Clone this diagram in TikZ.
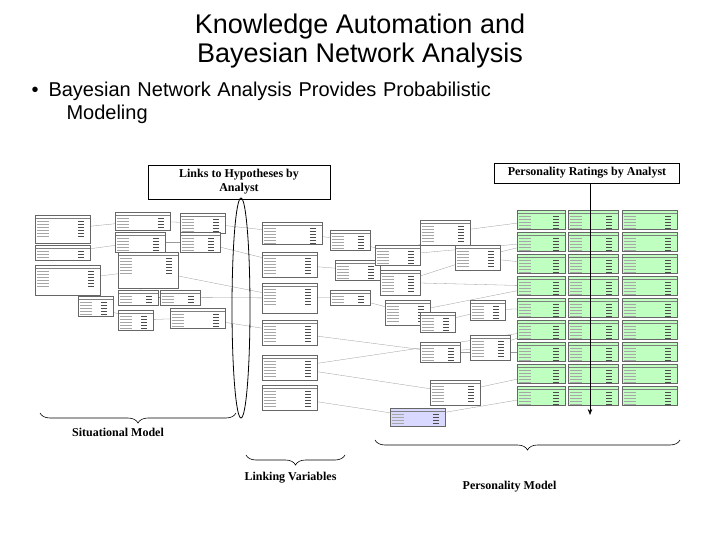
\documentclass[tikz,border=0pt]{standalone}
\usepackage{fontspec}
\setmainfont{Liberation Sans}
\newfontfamily\labfont{Liberation Serif}
\usetikzlibrary{decorations.pathreplacing,shapes.geometric,arrows.meta}
\tikzset{
  tbl/.style={draw=black!60,line width=0.3pt,fill=white,inner sep=0pt,anchor=north west,
    path picture={\draw[black!50,line width=0.3pt] ([yshift=-3pt]path picture bounding box.north west) -- ([yshift=-3pt]path picture bounding box.north east);
      \foreach \k in {6,9,12,15,18,21}{\draw[black!35,line width=0.4pt] ([xshift=2pt,yshift=-\k pt]path picture bounding box.north west) -- ++(12pt,0);
      \draw[black!70,line width=0.8pt] ([xshift=-12pt,yshift=-\k pt]path picture bounding box.north east) -- ++(6pt,0);}}},
  gtbl/.style={tbl,fill=green!25},
  lnk/.style={black!40,line width=0.3pt},
  lbl/.style={draw,fill=white,font=\labfont\bfseries\fontsize{12}{14}\selectfont,align=center,inner sep=3pt},
  brc/.style={decorate,decoration={brace,mirror,amplitude=10pt},line width=0.6pt},
  captxt/.style={font=\labfont\bfseries\fontsize{12}{14}\selectfont}
}
\begin{document}
\begin{tikzpicture}[x=1pt,y=-1pt]
\useasboundingbox (0,0) rectangle (720,540);
% title and bullet
\node[font=\fontsize{27}{29}\selectfont,align=center] (title) at (360,41) {Knowledge Automation and\\Bayesian Network Analysis};
\node[font=\fontsize{20}{23}\selectfont,align=left,anchor=north west,text width=660pt] (bul) at (28,78)
  {\makebox[17pt][l]{\textbullet}Bayesian Network Analysis Provides Probabilistic\\\hspace*{35pt}Modeling};
% links first, tables drawn over them
\foreach \n/\x/\y/\w/\h in {a1/35/215/55/28, a2/115/212/55/18, a3/180/213/45/20, a4/35/245/55/15,
  a5/115/232/50/20, a6/180/232/40/20, a7/35/265/65/30, a8/118/252/60/36, a9/118/290/40/15,
  a10/160/290/40/15, a11/78/296/35/20, a12/118/310/35/20, a13/170/308/55/20,
  m1/262/222/60/22, m2/262/252/55/25, m3/262/283/55/30, m4/262/320/55/25, m5/262/355/55/25,
  m6/262/385/55/25, m7/330/230/40/20, m8/335/260/45/20, m9/330/290/40/15, m10/375/245/45/20,
  m11/380/270/40/25, m12/385/300/45/25, m13/420/312/35/20, m14/420/342/40/20, m15/430/380/50/25,
  m16/420/220/50/25, m17/455/245/45/25, m18/470/300/35/20, m19/470/335/40/25, m20/390/408/55/18}
  \coordinate (\n) at (\x+\w/2,\y+\h/2);
\foreach \r/\y in {1/210,2/232,3/254,4/276,5/298,6/320,7/342,8/364,9/386}
  \coordinate (g\r a) at (541,\y+10);
\foreach \s/\t in {a1/a2,a2/a3,a4/a5,a5/a6,a7/a8,a8/a9,a9/a10,a11/a12,a12/a13,a3/m1,a6/m2,a8/m3,a10/m3,a13/m4,
  m1/m7,m2/m8,m3/m9,m7/m10,m8/m11,m9/m12,m10/m16,m11/m17,m12/m13,m13/m18,m14/m19,m4/m14,m5/m15,m6/m20,
  m16/g1a,m17/g2a,m17/g3a,m18/g5a,m19/g6a,m15/g8a,m20/g9a,m12/g4a,m14/g7a,m10/g2a,m11/g4a,m5/g6a}
  \draw[lnk] (\s) -- (\t);
% situational and linking tables
\foreach \n/\x/\y/\w/\h in {a1/35/215/55/28, a2/115/212/55/18, a3/180/213/45/20, a4/35/245/55/15,
  a5/115/232/50/20, a6/180/232/40/20, a7/35/265/65/30, a8/118/252/60/36, a9/118/290/40/15,
  a10/160/290/40/15, a11/78/296/35/20, a12/118/310/35/20, a13/170/308/55/20,
  m1/262/222/60/22, m2/262/252/55/25, m3/262/283/55/30, m4/262/320/55/25, m5/262/355/55/25,
  m6/262/385/55/25, m7/330/230/40/20, m8/335/260/45/20, m9/330/290/40/15, m10/375/245/45/20,
  m11/380/270/40/25, m12/385/300/45/25, m13/420/312/35/20, m14/420/342/40/20, m15/430/380/50/25,
  m16/420/220/50/25, m17/455/245/45/25, m18/470/300/35/20, m19/470/335/40/25}
  \node[tbl,minimum width=\w pt,minimum height=\h pt] (t\n) at (\x,\y) {};
\node[tbl,fill=blue!15,minimum width=55pt,minimum height=18pt] (tm20) at (390,408) {};
% personality tables
\foreach \r/\y in {1/210,2/232,3/254,4/276,5/298,6/320,7/342,8/364,9/386}{
  \node[gtbl,minimum width=48pt,minimum height=19pt] (t\r a) at (517,\y) {};
  \node[gtbl,minimum width=50pt,minimum height=19pt] (t\r b) at (568,\y) {};
  \node[gtbl,minimum width=55pt,minimum height=19pt] (t\r c) at (622,\y) {};}
% labels
\node[lbl,minimum width=182pt,minimum height=34pt] (hyp) at (239,182) {Links to Hypotheses by\\Analyst};
\node[lbl,minimum width=185pt,minimum height=20pt] (pers) at (587,173) {Personality Ratings by Analyst};
\node[draw,line width=0.8pt,ellipse,minimum width=18pt,minimum height=220pt,inner sep=0pt] (ell) at (241,308) {};
\draw[line width=0.6pt] (hyp.south -| ell.north) -- (ell.north);
\coordinate (pend) at (590,415);
\draw[line width=0.6pt,-{Stealth[length=6pt]}] (pers.south -| pend) -- (pend);
% braces
\coordinate (s1) at (40,413); \coordinate (s2) at (236,413);
\coordinate (l1) at (246,455); \coordinate (l2) at (345,455);
\coordinate (p1) at (375,440); \coordinate (p2) at (680,440);
\draw[brc] (s1) -- (s2) node[midway,below=12pt,xshift=-20pt,captxt] (sit) {Situational Model};
\draw[brc] (l1) -- (l2) node[midway,below=14pt,xshift=-5pt,captxt] (link) {Linking Variables};
\draw[brc] (p1) -- (p2) node[midway,below=38pt,xshift=-18pt,captxt] (pmod) {Personality Model};
\end{tikzpicture}
\end{document}
